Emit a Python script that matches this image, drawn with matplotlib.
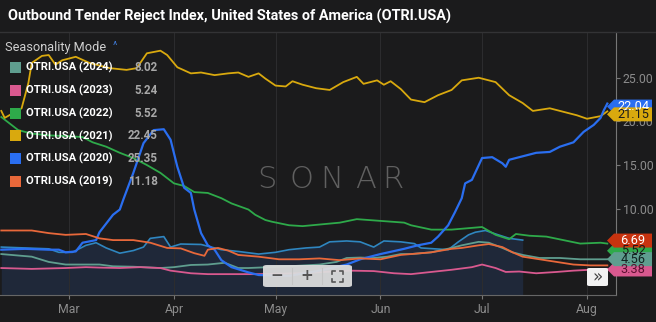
import matplotlib
matplotlib.use("Agg")
import matplotlib.pyplot as plt
import matplotlib.dates as mdates
from matplotlib.patches import Rectangle, Polygon, FancyBboxPatch
from matplotlib.lines import Line2D
from matplotlib.transforms import IdentityTransform
import pandas as pd

W, H = 656, 322
YEAR = "2021"

title = "Outbound Tender Reject Index, United States of America (OTRI.USA)"
legend_title = "Seasonality Mode"
series_names = ["OTRI.USA (2024)", "OTRI.USA (2023)", "OTRI.USA (2022)",
                "OTRI.USA (2021)", "OTRI.USA (2020)", "OTRI.USA (2019)"]
legend_values = ["8.02", "5.24", "5.52", "22.45", "25.35", "11.18"]
series_colors = ["#5f9e8f", "#d9598f", "#2eaa4a", "#d9a90e", "#2a6ef0", "#e8683a"]

month_ticks = ["03-01", "04-01", "05-01", "06-01", "07-01", "08-01"]
month_labels = ["Mar", "Apr", "May", "Jun", "Jul", "Aug"]
y_ticks = [5, 10, 15, 20, 25]

# current-year series (area)
cur_dates = ["02-09", "02-23", "02-26", "03-02", "03-06", "03-09", "03-12", "03-16", "03-20",
             "03-23", "03-25", "03-29", "03-31", "04-03", "04-09", "04-15", "04-20", "04-26",
             "05-01", "05-05", "05-10", "05-14", "05-17", "05-22", "05-26", "05-30", "06-02",
             "06-07", "06-11", "06-13", "06-17", "06-21", "06-24", "06-27", "06-29", "07-02",
             "07-05", "07-09", "07-13"]
cur_vals = [5.6, 5.4, 5.0, 5.0, 5.8, 6.1, 5.5, 4.9, 5.2,
            5.6, 6.6, 6.8, 5.6, 5.95, 5.9, 5.3, 5.1, 4.8,
            5.0, 5.3, 5.5, 5.6, 6.2, 6.3, 6.2, 5.6, 6.3,
            6.2, 6.0, 5.5, 5.4, 5.3, 6.2, 7.0, 7.3, 7.5,
            7.1, 6.6, 6.4]

d2024 = ["02-09", "02-18", "02-23", "02-28", "03-10", "03-14", "03-20", "03-28", "04-01",
         "04-06", "04-11", "04-16", "04-20", "04-23", "05-05", "05-14", "05-19", "05-22",
         "05-26", "05-30", "06-03", "06-07", "06-10", "06-16", "06-22", "06-25", "06-30",
         "07-03", "07-07", "07-10", "07-13", "07-18", "07-24", "07-30", "08-07"]
v2024 = [4.8, 4.5, 3.9, 3.6, 3.6, 3.4, 3.35, 3.2, 3.3,
         3.55, 3.6, 3.8, 3.2, 3.2, 3.4, 3.6, 3.9, 4.35,
         4.4, 4.35, 4.5, 4.8, 4.8, 5.0, 5.5, 5.8, 6.2,
         6.1, 5.5, 5.0, 4.7, 4.35, 4.35, 4.2, 4.2]

d2023 = ["02-09", "02-18", "02-28", "03-06", "03-10", "03-16", "03-22", "03-28", "03-31",
         "04-06", "04-11", "04-18", "04-26", "05-08", "05-23", "05-30", "06-05", "06-10",
         "06-16", "06-22", "06-28", "07-01", "07-05", "07-08", "07-12", "07-17", "07-23",
         "07-28", "08-02", "08-07"]
v2023 = [3.2, 3.1, 3.2, 3.3, 3.25, 3.2, 3.3, 3.2, 2.9,
         2.6, 2.5, 2.5, 2.5, 2.6, 2.9, 2.85, 2.6, 2.5,
         2.75, 3.0, 3.3, 3.6, 3.2, 2.75, 2.8, 2.6, 2.75,
         2.9, 3.0, 3.1]

d2022 = ["02-09", "02-12", "02-14", "02-18", "02-23", "03-01", "03-05", "03-08", "03-12",
         "03-16", "03-20", "03-24", "03-28", "04-01", "04-04", "04-07", "04-11", "04-15",
         "04-18", "04-23", "04-25", "04-28", "04-30", "05-05", "05-09", "05-20", "05-25",
         "06-01", "06-08", "06-10", "06-16", "06-22", "06-28", "07-01", "07-05", "07-09",
         "07-11", "07-15", "07-20", "07-25", "07-30", "08-05", "08-07"]
v2022 = [20.5, 19.6, 19.0, 18.6, 18.4, 18.3, 18.2, 17.6, 17.1,
         16.4, 15.8, 15.0, 14.1, 12.9, 12.6, 11.9, 11.8, 11.2,
         10.6, 9.9, 9.3, 8.7, 8.5, 8.1, 8.0, 8.4, 8.8,
         8.6, 8.4, 8.1, 7.6, 7.6, 7.8, 7.9, 7.0, 6.5,
         7.1, 6.9, 6.8, 6.4, 6.0, 6.1, 6.0]

d2021 = ["02-09", "02-10", "02-15", "02-17", "02-18", "02-21", "02-23", "02-25", "02-27",
         "03-03", "03-07", "03-13", "03-18", "03-21", "03-24", "03-28", "03-30", "04-02",
         "04-06", "04-09", "04-13", "04-17", "04-20", "04-23", "04-26", "04-28", "05-01",
         "05-04", "05-06", "05-09", "05-13", "05-17", "05-21", "05-25", "05-27", "05-31",
         "06-02", "06-04", "06-07", "06-10", "06-14", "06-18", "06-22", "06-25", "06-30",
         "07-05", "07-09", "07-13", "07-16", "07-21", "07-25", "07-29", "08-01", "08-05",
         "08-07"]
v2021 = [21.2, 20.4, 21.5, 24.4, 26.7, 27.5, 27.6, 26.5, 27.0,
         27.4, 26.7, 26.1, 25.9, 26.1, 27.8, 28.1, 27.6, 26.2,
         25.5, 25.6, 25.3, 25.5, 25.6, 25.1, 25.5, 24.9, 24.1,
         24.0, 24.6, 24.2, 23.8, 23.6, 24.5, 25.1, 24.3, 24.7,
         24.2, 24.6, 23.7, 22.5, 22.2, 23.0, 23.6, 24.7, 25.0,
         24.5, 23.0, 22.1, 21.2, 21.5, 21.1, 20.7, 20.3, 20.6,
         21.15]

d2020 = ["02-09", "02-16", "02-23", "02-26", "02-28", "03-03", "03-05", "03-09", "03-10",
         "03-14", "03-16", "03-17", "03-20", "03-23", "03-26", "03-29", "03-31", "04-02",
         "04-04", "04-06", "04-07", "04-09", "04-11", "04-13", "04-15", "04-18", "04-23",
         "04-26", "05-05", "05-14", "05-22", "05-26", "06-01", "06-08", "06-12", "06-16",
         "06-18", "06-21", "06-23", "06-25", "06-26", "06-28", "07-01", "07-04", "07-07",
         "07-08", "07-09", "07-12", "07-17", "07-21", "07-24", "07-28", "07-31", "08-03",
         "08-05", "08-06", "08-07"]
v2020 = [5.3, 5.4, 5.3, 5.3, 5.0, 5.1, 6.1, 6.4, 7.3,
         9.3, 9.9, 11.0, 14.1, 17.5, 19.0, 19.1, 17.9, 14.8,
         12.4, 11.8, 9.9, 7.2, 5.8, 5.3, 4.1, 3.3, 2.7,
         2.4, 2.3, 2.9, 3.6, 4.2, 4.8, 5.4, 5.8, 6.1,
         6.8, 8.1, 9.6, 11.2, 12.9, 13.3, 15.8, 15.9, 15.2,
         14.8, 15.6, 15.9, 16.4, 16.5, 17.1, 17.6, 18.8, 19.6,
         20.4, 21.3, 22.04]

d2019 = ["02-09", "02-18", "02-23", "02-28", "03-06", "03-10", "03-14", "03-20", "03-25",
         "03-30", "04-03", "04-07", "04-10", "04-11", "04-14", "04-17", "04-20", "04-26",
         "05-02", "05-08", "05-14", "05-20", "05-26", "06-01", "06-07", "06-10", "06-16",
         "06-22", "06-25", "06-30", "07-03", "07-07", "07-10", "07-13", "07-18", "07-23",
         "07-28", "08-02", "08-07"]
v2019 = [7.5, 7.5, 7.2, 7.0, 7.1, 6.6, 6.4, 6.4, 6.1,
         5.5, 5.45, 4.9, 4.6, 5.3, 5.5, 5.2, 4.7, 4.5,
         4.2, 4.2, 4.3, 4.1, 4.3, 4.2, 4.7, 4.8, 5.0,
         5.4, 5.5, 5.8, 5.95, 5.6, 5.0, 4.5, 4.2, 3.9,
         3.6, 3.5, 3.5]

end_labels = ["22.04", "21.15", "5.52", "3.38", "6.69", "4.56"]
end_values = [22.04, 21.15, 5.52, 3.38, 6.69, 4.56]
end_colors = ["#2a6ef0", "#d9a90e", "#2eaa4a", "#d9598f", "#c8330f", "#5f9e8f"]
end_text_colors = ["white", "#1a1a1a", "#1a1a1a", "#5a1030", "white", "#10231f"]

FONT = ["Roboto", "DejaVu Sans"]
plt.rcParams["font.family"] = FONT
BG = "#1b1b1c"


def to_dates(lst):
    return pd.to_datetime([f"{YEAR}-{s}" for s in lst])


fig = plt.figure(figsize=(W / 100, H / 100), dpi=100, facecolor=BG)
ax = fig.add_axes([0, 1 - 295 / H, 616 / W, (295 - 32) / H], facecolor=BG)

x0 = pd.Timestamp(f"{YEAR}-03-01") - pd.Timedelta(days=20.38)
x1 = pd.Timestamp(f"{YEAR}-08-01") + pd.Timedelta(days=8.56)
ax.set_xlim(x0, x1)
ax.set_ylim(0.11, 30.24)

# area series
cd = to_dates(cur_dates)
ax.fill_between(cd, cur_vals, 0, color="#1f2839", lw=0, zorder=1)
ax.plot(cd, cur_vals, color="#2f86c0", lw=1.2, zorder=3)

data = [(d2024, v2024), (d2023, v2023), (d2022, v2022), (d2021, v2021), (d2020, v2020), (d2019, v2019)]
order = [5, 0, 1, 2, 3, 4]
for i in order:
    d, v = data[i]
    ax.plot(to_dates(d), v, color=series_colors[i], lw=1.6 if i == 4 else 1.3, zorder=4 + i)

# axes styling
ax.set_xticks(to_dates(month_ticks))
ax.set_xticklabels(month_labels)
ax.set_yticks(y_ticks)
ax.set_yticklabels([f"{t:.2f}" for t in y_ticks])
ax.yaxis.tick_right()
ax.tick_params(axis="y", direction="out", length=3, color="#777777", labelcolor="#8c8c8c",
               labelsize=8.8, pad=2)
ax.tick_params(axis="x", direction="out", length=3, color="#777777", labelcolor="#8c8c8c",
               labelsize=8.8, pad=3)
for s in ["top", "left"]:
    ax.spines[s].set_visible(False)
ax.spines["right"].set_color("#777777")
ax.spines["bottom"].set_color("#666666")
ax.grid(axis="x", color="#2c2c2e", lw=0.8, zorder=0)

# watermark
for letter, px in zip("SONAR", [267, 301, 332, 366, 393]):
    fig.text(px / W, 1 - 179 / H, letter, color="#606060", fontsize=22, fontweight="light",
             ha="center", va="center", family=["DejaVu Sans"], zorder=2)

# title bar
fig.add_artist(Line2D([0, 1], [1 - 32 / H, 1 - 32 / H], color="#333335", lw=1))
fig.text(8 / W, 1 - 16 / H, title, color="white", fontsize=10.4, fontweight="bold",
         ha="left", va="center")

# legend
fig.text(5 / W, 1 - 47 / H, legend_title, color="#d0d0d0", fontsize=9.2, ha="left", va="center")
fig.text(113 / W, 1 - 46 / H, "^", color="#3f7ad6", fontsize=7.5, ha="left", va="center")
for k, (name, val, col) in enumerate(zip(series_names, legend_values, series_colors)):
    cy = 67.5 + k * 22.8
    fig.add_artist(Rectangle((10 / W, 1 - (cy + 5.5) / H), 11 / W, 11 / H, color=col, lw=0))
    fig.text(26 / W, 1 - cy / H, name, color="white", fontsize=8.1, fontweight="bold",
             ha="left", va="center")
    fig.text(158 / W, 1 - cy / H, val, color="#a8a8a8", fontsize=8.4, fontweight="bold",
             ha="right", va="center")

# end labels
fig.canvas.draw()
for lab, val, col, tcol in zip(end_labels, end_values, end_colors, end_text_colors):
    cy = ax.transData.transform((mdates.date2num(x1), val))[1] - 3
    pts = [(607, cy), (614, cy + 7), (652, cy + 7), (652, cy - 7), (614, cy - 7)]
    fig.add_artist(Polygon(pts, closed=True, facecolor=col, edgecolor="none",
                           transform=IdentityTransform()))
    fig.add_artist(plt.Text(633, cy, lab, color=tcol, fontsize=9.2, ha="center", va="center",
                            transform=IdentityTransform(), family=FONT))

# zoom control box
fig.add_artist(FancyBboxPatch((263 / W, 1 - 287 / H), 89 / W, 22 / H,
                              boxstyle="round,pad=0,rounding_size=0.006",
                              facecolor="#dcdcdc", edgecolor="none", alpha=0.95))
for px in [292, 322]:
    fig.add_artist(Line2D([px / W, px / W], [1 - 284 / H, 1 - 268 / H], color="#c4c4c4", lw=0.8))
fig.text(277 / W, 1 - 276 / H, "\u2212", color="#555555", fontsize=11, fontweight="bold",
         ha="center", va="center", family=["DejaVu Sans"])
fig.text(307 / W, 1 - 276 / H, "+", color="#555555", fontsize=11, fontweight="bold",
         ha="center", va="center", family=["DejaVu Sans"])
cx, cyy, r, a = 337, 276, 5.5, 3
for sx in (-1, 1):
    for sy in (-1, 1):
        xs = [(cx + sx * r) / W, (cx + sx * r) / W, (cx + sx * (r - a)) / W]
        ys = [1 - (cyy + sy * (r - a)) / H, 1 - (cyy + sy * r) / H, 1 - (cyy + sy * r) / H]
        fig.add_artist(Line2D(xs, ys, color="#555555", lw=1.2))

# scroll button
fig.add_artist(FancyBboxPatch((587 / W, 1 - 286 / H), 21 / W, 18 / H,
                              boxstyle="round,pad=0,rounding_size=0.004",
                              facecolor="#f2f2f2", edgecolor="none"))
fig.text(597.5 / W, 1 - 277.5 / H, "\u00bb", color="#444444", fontsize=12,
         ha="center", va="center", family=["DejaVu Sans"])

fig.savefig("out.png", dpi=100, facecolor=BG)
